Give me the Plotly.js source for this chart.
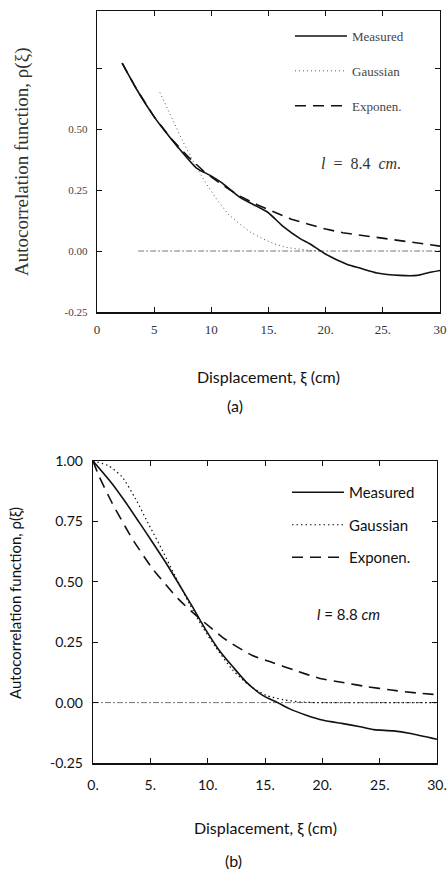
<!DOCTYPE html>
<html>
<head>
<meta charset="utf-8">
<script src="https://cdn.plot.ly/plotly-3.0.1.min.js"></script>
<style>
html,body{margin:0;padding:0;background:#fff;}
#chart{width:448px;height:874px;}
</style>
</head>
<body>
<div id="chart"></div>
<script>
// ---------- Panel (a): l = 8.4 cm ----------
var aMeasuredX = [2.2, 3.5, 5.0, 5.8, 7.0, 8.7, 9.9, 10.9, 12.5, 14.9, 16.3, 17.8, 18.6, 19.9, 21.9, 23.0, 24.5, 26.5, 28.0, 28.9, 30.0];
var aMeasuredY = [0.77, 0.66, 0.55, 0.50, 0.43, 0.34, 0.31, 0.28, 0.22, 0.16, 0.10, 0.05, 0.03, -0.01, -0.055, -0.07, -0.09, -0.10, -0.10, -0.09, -0.08];
var aGaussX = [5.5, 6.5, 7.5, 8.5, 9.5, 10.5, 11.5, 12.5, 13.5, 14.5, 15.5, 16.5, 17.5, 18.5, 19.5];
var aGaussY = [0.65, 0.55, 0.45, 0.36, 0.28, 0.21, 0.15, 0.11, 0.075, 0.05, 0.03, 0.015, 0.008, 0.003, 0.0];
var aExpX = [2.2, 3.5, 5.0, 6.5, 8.0, 9.5, 11.0, 12.5, 14.0, 15.5, 17.0, 18.5, 20.0, 21.5, 23.0, 24.5, 26.0, 27.5, 29.0, 30.0];
var aExpY = [0.77, 0.66, 0.55, 0.46, 0.385, 0.32, 0.27, 0.225, 0.19, 0.16, 0.13, 0.11, 0.09, 0.075, 0.065, 0.055, 0.045, 0.035, 0.025, 0.02];
var aZeroX = [3.6, 30];
var aZeroY = [0, 0];

// ---------- Panel (b): l = 8.8 cm ----------
var bMeasuredX = [0, 1.67, 2.83, 4.0, 5.17, 6.34, 7.5, 8.68, 9.85, 11.0, 12.2, 13.35, 14.8, 16.1, 17.1, 18.6, 20.1, 21.8, 23.3, 24.5, 26.2, 27.7, 30.0];
var bMeasuredY = [1.0, 0.906, 0.83, 0.748, 0.665, 0.58, 0.49, 0.396, 0.30, 0.217, 0.148, 0.086, 0.03, 0.0, -0.025, -0.052, -0.073, -0.087, -0.10, -0.112, -0.117, -0.128, -0.152];
var bGaussX = [0, 1.37, 2.54, 3.7, 4.9, 6.05, 7.2, 8.4, 9.55, 10.7, 12.2, 13.6, 15.1, 16.6, 18.0, 19.5, 30.0];
var bGaussY = [1.0, 0.98, 0.934, 0.844, 0.734, 0.63, 0.52, 0.41, 0.313, 0.23, 0.134, 0.072, 0.03, 0.012, 0.003, 0.0, 0.0];
var bExpX = [0, 0.5, 1.67, 3.4, 5.17, 7.5, 9.26, 11.6, 13.9, 15.7, 17.5, 19.8, 21.8, 23.9, 26.0, 28.2, 30.0];
var bExpY = [1.0, 0.94, 0.826, 0.68, 0.556, 0.426, 0.35, 0.26, 0.195, 0.165, 0.135, 0.10, 0.083, 0.066, 0.052, 0.04, 0.033];
var bZeroX = [0, 30];
var bZeroY = [0, 0];

// ---------- Tick labels ----------
var xTickVals = [0, 5, 10, 15, 20, 25, 30];
var aXTickText = ["0", "5", "10", "15.", "20.", "25.", "30"];
var bXTickText = ["0.", "5.", "10.", "15.", "20.", "25.", "30."];
var yTickVals = [-0.25, 0, 0.25, 0.5, 0.75, 1.0];
var aYTickText = ["-0.25", "0.00", "0.25", "0.50", "", ""];
var bYTickText = ["-0.25", "0.00", "0.25", "0.50", "0.75", "1.00"];

var seriesNames = ["Measured", "Gaussian", "Exponen."];
var yTitle = "Autocorrelation function, ρ(ξ)";
var xTitle = "Displacement, ξ (cm)";
var aLabel = "(a)", bLabel = "(b)";
var aLength = "<i>l</i>  =  8.4  <i>cm.</i>";
var bLength = "<i>l</i> = 8.8 <i>cm</i>";

var W = 448, H = 874;
function px(x){ return x / W; }
function py(y){ return 1 - y / H; }

var SERIF = "Liberation Serif, Times New Roman, serif";
var SANS = "Lato, Open Sans, sans-serif";
var ink = "#111";

var traces = [
  {x: aZeroX, y: aZeroY, xaxis: "x", yaxis: "y", mode: "lines", showlegend: false, hoverinfo: "skip",
   line: {color: "#777", width: 1, dash: "6px,2px,2px,2px"}},
  {x: aGaussX, y: aGaussY, xaxis: "x", yaxis: "y", mode: "lines", name: seriesNames[1], legend: "legend", legendgroup: "ag", legendrank: 2,
   line: {color: "#555", width: 1, dash: "1px,3px"}},
  {x: aExpX, y: aExpY, xaxis: "x", yaxis: "y", mode: "lines", name: seriesNames[2], legend: "legend", legendgroup: "ae", legendrank: 3,
   line: {color: ink, width: 1.6, dash: "11px,7px"}},
  {x: aMeasuredX, y: aMeasuredY, xaxis: "x", yaxis: "y", mode: "lines", name: seriesNames[0], legend: "legend", legendgroup: "am", legendrank: 1,
   line: {color: ink, width: 1.6, shape: "spline", smoothing: 0.6}},

  {x: bZeroX, y: bZeroY, xaxis: "x2", yaxis: "y2", mode: "lines", showlegend: false, hoverinfo: "skip",
   line: {color: "#777", width: 1, dash: "6px,2px,2px,2px"}},
  {x: bGaussX, y: bGaussY, xaxis: "x2", yaxis: "y2", mode: "lines", name: seriesNames[1], legend: "legend2", legendgroup: "bg", legendrank: 2,
   line: {color: ink, width: 1.2, dash: "1.5px,3px", shape: "spline", smoothing: 0.6}},
  {x: bExpX, y: bExpY, xaxis: "x2", yaxis: "y2", mode: "lines", name: seriesNames[2], legend: "legend2", legendgroup: "be", legendrank: 3,
   line: {color: ink, width: 1.6, dash: "11px,7px", shape: "spline", smoothing: 0.6}},
  {x: bMeasuredX, y: bMeasuredY, xaxis: "x2", yaxis: "y2", mode: "lines", name: seriesNames[0], legend: "legend2", legendgroup: "bm", legendrank: 1,
   line: {color: ink, width: 1.6, shape: "spline", smoothing: 0.6}}
];

function xAxis(domain, anchor, ticktext, font, standoff){
  return {domain: domain, anchor: anchor, range: [0, 30], tickmode: "array", tickvals: xTickVals, ticktext: ticktext,
    ticks: "inside", ticklen: 5, tickwidth: 1, tickcolor: ink, mirror: "ticks", showline: true, linecolor: ink, linewidth: 1.5,
    showgrid: false, zeroline: false, tickfont: font, ticklabelstandoff: standoff, fixedrange: true};
}
function yAxis(domain, anchor, range, ticktext, font){
  return {domain: domain, anchor: anchor, range: range, tickmode: "array", tickvals: yTickVals, ticktext: ticktext,
    ticks: "inside", ticklen: 5, tickwidth: 1, tickcolor: ink, mirror: "ticks", showline: true, linecolor: ink, linewidth: 1.3,
    showgrid: false, zeroline: false, tickfont: font, ticklabelstandoff: 6, fixedrange: true};
}

var layout = {
  width: W, height: H,
  margin: {l: 0, r: 0, t: 0, b: 0},
  paper_bgcolor: "#fff", plot_bgcolor: "#fff",
  showlegend: true,
  xaxis: xAxis([px(97), px(440)], "y", aXTickText, {family: SERIF, size: 13, color: "#333"}, 5),
  yaxis: yAxis([py(312), py(11)], "x", [-0.25, 0.984], aYTickText, {family: SERIF, size: 11, color: "#444"}),
  xaxis2: xAxis([px(93), px(437)], "y2", bXTickText, {family: SANS, size: 14, color: ink}, 9),
  yaxis2: yAxis([py(763), py(461)], "x2", [-0.25, 1.0], bYTickText, {family: SANS, size: 14, color: ink}),
  legend: {x: px(290), y: py(21), xanchor: "left", yanchor: "top", bgcolor: "rgba(0,0,0,0)", borderwidth: 0,
    itemwidth: 52, font: {family: SERIF, size: 13, color: "#444"}, traceorder: "grouped", tracegroupgap: 15},
  legend2: {x: px(287), y: py(476), xanchor: "left", yanchor: "top", bgcolor: "rgba(0,0,0,0)", borderwidth: 0,
    itemwidth: 52, font: {family: SANS, size: 15, color: ink}, traceorder: "grouped", tracegroupgap: 10},
  annotations: [
    {xref: "paper", yref: "paper", x: px(22), y: py(162), text: yTitle, textangle: -90, showarrow: false,
     xanchor: "center", yanchor: "middle", font: {family: SERIF, size: 19, color: "#333"}},
    {xref: "paper", yref: "paper", x: px(268), y: py(377), text: xTitle, showarrow: false,
     xanchor: "center", yanchor: "middle", font: {family: SANS, size: 16, color: ink}},
    {xref: "paper", yref: "paper", x: px(235), y: py(405), text: aLabel, showarrow: false,
     xanchor: "center", yanchor: "middle", font: {family: SANS, size: 16, color: ink}},
    {xref: "paper", yref: "paper", x: px(361), y: py(163), text: aLength, showarrow: false,
     xanchor: "center", yanchor: "middle", font: {family: SERIF, size: 16, color: "#333"}},

    {xref: "paper", yref: "paper", x: px(15), y: py(603), text: yTitle, textangle: -90, showarrow: false,
     xanchor: "center", yanchor: "middle", font: {family: SANS, size: 15, color: ink}},
    {xref: "paper", yref: "paper", x: px(265), y: py(828), text: xTitle, showarrow: false,
     xanchor: "center", yanchor: "middle", font: {family: SANS, size: 16, color: ink}},
    {xref: "paper", yref: "paper", x: px(233), y: py(860), text: bLabel, showarrow: false,
     xanchor: "center", yanchor: "middle", font: {family: SANS, size: 16, color: ink}},
    {xref: "paper", yref: "paper", x: px(348), y: py(614), text: bLength, showarrow: false,
     xanchor: "center", yanchor: "middle", font: {family: SANS, size: 15, color: ink}}
  ]
};

Plotly.newPlot("chart", traces, layout, {displayModeBar: false, staticPlot: true});
</script>
</body>
</html>
